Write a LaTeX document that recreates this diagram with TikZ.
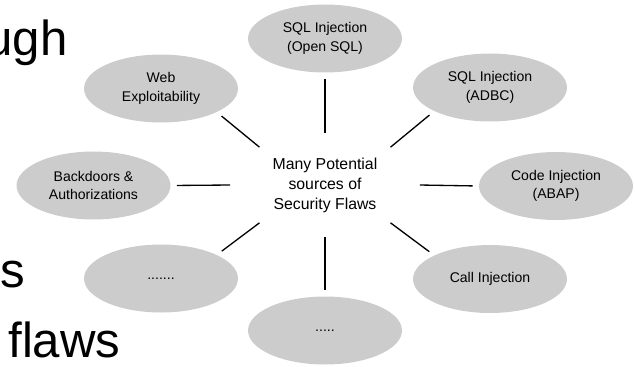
\documentclass[tikz,border=0pt]{standalone}
\usepackage{fontspec}
\setmainfont{Liberation Sans}
\usetikzlibrary{shapes.geometric}
\definecolor{petal}{gray}{0.8}

\begin{document}
\begin{tikzpicture}[x=0.02cm,y=-0.02cm,
  flaw/.style={ellipse,fill=petal,minimum width=3.08cm,minimum height=1.36cm,inner sep=0pt,align=center,font=\fontsize{8}{10.5}\selectfont},
  hub/.style={ellipse,minimum width=3.78cm,minimum height=2.08cm,inner sep=0pt,align=center,font=\fontsize{9}{11.4}\selectfont},
  spoke/.style={line width=0.75pt,shorten >=0.12cm},
  slide/.style={inner sep=0pt,font=\fontsize{28}{34}\selectfont}]
\useasboundingbox (0,0) rectangle (635,366);
\node[slide,anchor=base east] (ugh) at (68,55) {ugh};
\node[slide,anchor=base west] (s) at (0,287) {s};
\node[slide,anchor=base west] (flaws) at (8,357) {flaws};
\node[hub] (hub) at (325,185) {Many Potential\\sources of\\Security Flaws};
\node[flaw] (opensql) at (325,38.5) {SQL Injection\\(Open SQL)};
\node[flaw] (adbc) at (490,87.5) {SQL Injection\\(ADBC)};
\node[flaw] (codeinj) at (556,186) {Code Injection\\(ABAP)};
\node[flaw] (callinj) at (490,279) {Call Injection};
\node[flaw] (more) at (325,330.5) {.....};
\node[flaw] (others) at (161,278.5) {.......};
\node[flaw] (backdoor) at (93.5,185.5) {Backdoors \&\\Authorizations};
\node[flaw] (web) at (161,88.5) {Web\\Exploitability};
\draw[spoke] (hub.north) -- (opensql.south);
\draw[spoke] (hub.30) -- (adbc.203);
\draw[spoke] (hub.east) -- (codeinj.west);
\draw[spoke] (hub.330) -- (callinj.157);
\draw[spoke] (hub.south) -- (more.north);
\draw[spoke] (hub.210) -- (others.23);
\draw[spoke] (hub.west) -- (backdoor.east);
\draw[spoke] (hub.150) -- (web.337);
\end{tikzpicture}
\end{document}
